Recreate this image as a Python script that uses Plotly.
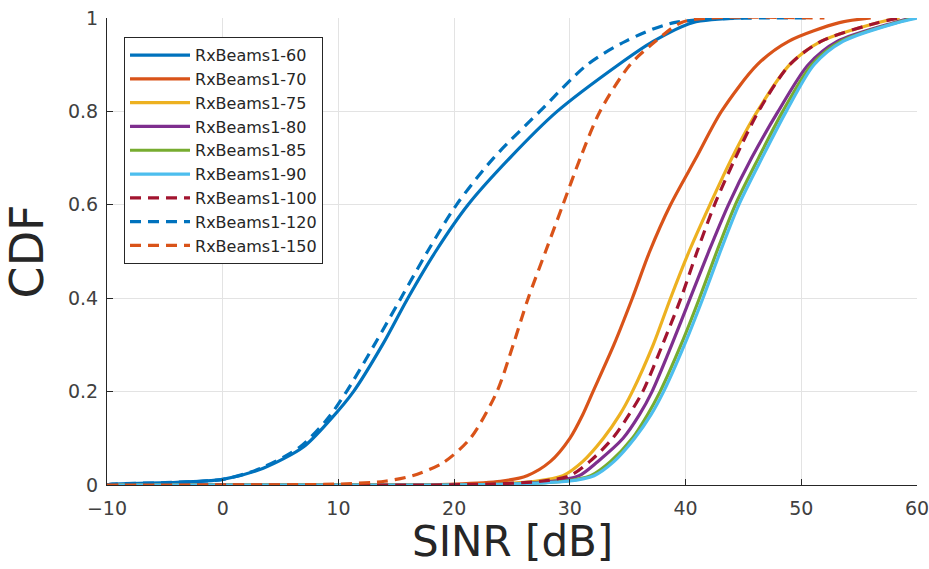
import plotly.graph_objects as go

# CDF levels shared by the upper group of curves
cdf_levels = [0, 0, 0.002, 0.008, 0.02, 0.05, 0.1, 0.15, 0.2, 0.3, 0.4, 0.5, 0.6, 0.7, 0.8, 0.9, 0.95, 0.99, 1.0]

# RxBeams1-60 (solid) and RxBeams1-120 (dashed)
cdf_low = [0.0, 0.002, 0.005, 0.012, 0.036, 0.082, 0.14, 0.2, 0.3, 0.4, 0.5, 0.6, 0.7, 0.8, 0.9, 0.95, 0.99, 1.0]
sinr_60 = [-10, -9.5, -5, 0, 3.5, 7.0, 9.3, 11.3, 13.8, 16.0, 18.4, 21.2, 24.8, 28.9, 34.2, 37.2, 40.6, 45]
sinr_120 = [-10, -9.5, -5, 0, 3.3, 6.7, 9.0, 10.7, 13.1, 15.4, 17.7, 20.2, 23.4, 27.4, 31.5, 34.8, 39.0, 51]

# RxBeams1-150 (dashed)
cdf_150 = [0, 0, 0.002, 0.008, 0.02, 0.047, 0.1, 0.2, 0.3, 0.4, 0.5, 0.6, 0.7, 0.8, 0.9, 0.95, 0.99, 1.0, 1.0]
sinr_150 = [-10, 0, 10, 14, 16.4, 19.0, 21.4, 23.7, 25.1, 26.4, 27.9, 29.4, 30.9, 32.6, 35.2, 37.4, 39.6, 42, 52]

# Upper group, SINR at each value of cdf_levels
sinr_70 = [-10, 15, 20, 24, 26.3, 28.3, 30.0, 31.1, 32.0, 33.8, 35.4, 36.9, 38.7, 40.9, 43.1, 46.2, 48.9, 53.3, 56]
sinr_75 = [-10, 18, 23, 27, 29.4, 31.1, 32.9, 34.3, 35.4, 37.2, 38.7, 40.3, 42.1, 44.0, 46.2, 49.0, 51.7, 56.6, 58.5]
sinr_80 = [-10, 19, 24, 28.5, 30.8, 32.4, 34.6, 36.0, 37.1, 38.8, 40.4, 42.0, 43.7, 45.7, 48.0, 50.6, 53.1, 58.0, 59.5]
sinr_85 = [-10, 19, 24.5, 29.5, 31.8, 33.5, 35.4, 36.7, 37.8, 39.6, 41.2, 42.7, 44.3, 46.3, 48.4, 50.9, 53.4, 58.2, 59.8]
sinr_90 = [-10, 19, 25, 29.8, 32.1, 33.8, 35.6, 37.0, 38.1, 39.9, 41.5, 43.0, 44.6, 46.6, 48.7, 51.1, 53.6, 58.3, 60]
sinr_100 = [-10, 18, 23, 27.5, 30.0, 31.7, 33.7, 35.1, 36.3, 38.0, 39.6, 41.0, 42.5, 44.3, 46.3, 49.0, 51.7, 56.6, 58.5]

x_ticks = [-10, 0, 10, 20, 30, 40, 50, 60]
y_ticks = [0, 0.2, 0.4, 0.6, 0.8, 1]
y_tick_text = ["0", "0.2", "0.4", "0.6", "0.8", "1"]

DASH = "11px,7px"

series = [
    ("RxBeams1-60", sinr_60, cdf_low, "#0072BD", "solid"),
    ("RxBeams1-70", sinr_70, cdf_levels, "#D95319", "solid"),
    ("RxBeams1-75", sinr_75, cdf_levels, "#EDB120", "solid"),
    ("RxBeams1-80", sinr_80, cdf_levels, "#7E2F8E", "solid"),
    ("RxBeams1-85", sinr_85, cdf_levels, "#77AC30", "solid"),
    ("RxBeams1-90", sinr_90, cdf_levels, "#4DBEEE", "solid"),
    ("RxBeams1-100", sinr_100, cdf_levels, "#A2142F", DASH),
    ("RxBeams1-120", sinr_120, cdf_low, "#0072BD", DASH),
    ("RxBeams1-150", sinr_150, cdf_150, "#D95319", DASH),
]

fig = go.Figure()
for name, xs, ys, color, dash in series:
    fig.add_trace(go.Scatter(
        x=xs, y=ys, name=name, mode="lines",
        line=dict(color=color, width=3.2, dash=dash, shape="spline", smoothing=0.8),
    ))

font_family = "DejaVu Sans, sans-serif"

fig.update_layout(
    width=929, height=569,
    margin=dict(l=107, r=12, t=18, b=84),
    paper_bgcolor="white", plot_bgcolor="white",
    font=dict(family=font_family, color="#262626"),
    showlegend=True,
    legend=dict(
        x=0.021, y=0.959, xanchor="left", yanchor="top",
        bgcolor="white", bordercolor="#262626", borderwidth=1,
        font=dict(size=16, color="#262626", family=font_family),
        itemwidth=60, tracegroupgap=0,
    ),
    xaxis=dict(
        range=[-10, 60], tickvals=x_ticks, automargin=False,
        showgrid=True, gridcolor="#e3e3e3", gridwidth=1,
        showline=True, linecolor="#262626", linewidth=1,
        ticks="inside", ticklen=6, tickcolor="#262626",
        tickfont=dict(size=19, color="#404040"), ticklabelstandoff=6,
        ticklabeloverflow="allow",
        zeroline=False,
    ),
    yaxis=dict(
        range=[0, 1], tickvals=y_ticks, ticktext=y_tick_text, automargin=False,
        showgrid=True, gridcolor="#e3e3e3", gridwidth=1,
        showline=True, linecolor="#262626", linewidth=1,
        ticks="inside", ticklen=6, tickcolor="#262626",
        tickfont=dict(size=19, color="#404040"), ticklabelstandoff=4,
        zeroline=False,
        title=dict(text="CDF", font=dict(size=46, color="#262626"), standoff=12),
    ),
    annotations=[dict(
        text="SINR [dB]", xref="paper", yref="paper", x=0.5, y=-0.122,
        xanchor="center", yanchor="middle", showarrow=False,
        font=dict(size=42, color="#262626", family=font_family),
    )],
)

fig.write_html("out.html")
